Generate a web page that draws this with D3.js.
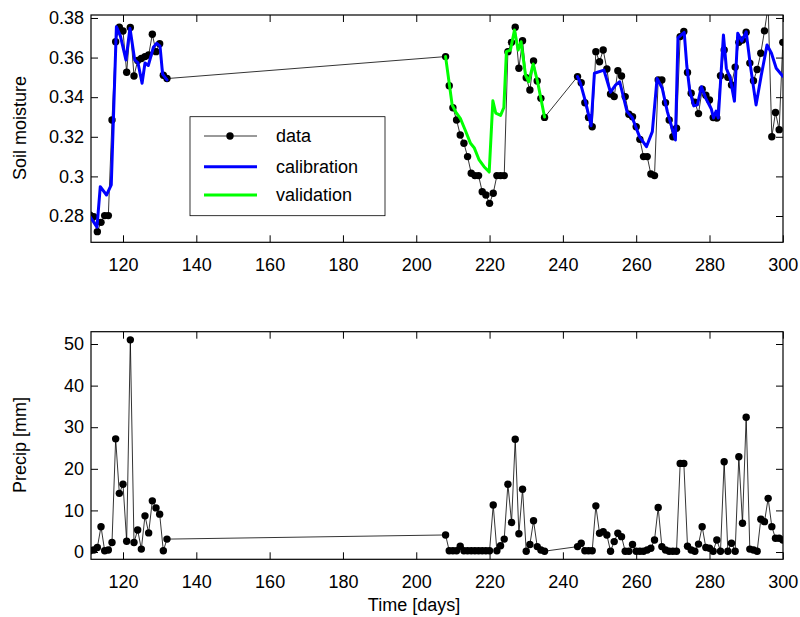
<!DOCTYPE html>
<html>
<head>
<meta charset="utf-8">
<script src="https://cdn.jsdelivr.net/npm/d3@7/dist/d3.min.js"></script>
<style>
  body { margin: 0; background: #fff; }
  svg text { font-family: "Liberation Sans", Arial, Helvetica, sans-serif; fill: #000; }
</style>
</head>
<body>
<svg id="chart" width="800" height="617"></svg>
<script>
// Observation days (day of year)
const obsDays = [
  111, 112, 113, 114, 115, 116, 117, 118, 119, 120, 121, 122, 123, 124, 125, 126, 127, 128, 129, 130, 131, 132,
  208, 209, 210, 211, 212, 213, 214, 215, 216, 217, 218, 219, 220, 221, 222, 223, 224, 225, 226, 227, 228, 229,
  230, 231, 232, 233, 234, 235,
  244, 245, 246, 247, 248, 249, 250, 251, 252, 253, 254, 255, 256, 257, 258, 259, 260, 261, 262, 263, 264, 265,
  266, 267, 268, 269, 270, 271, 272, 273, 274, 275, 276, 277, 278, 279, 280, 281, 282, 283, 284, 285, 286, 287,
  288, 289, 290, 291, 292, 293, 294, 295, 296, 297, 298, 299, 300
];

// Measured soil moisture
const soilMoisture = [
  0.2805, 0.2797, 0.2721, 0.2768, 0.2802, 0.2802, 0.3285, 0.3680, 0.3753, 0.3734, 0.3526, 0.3752, 0.3507, 0.3585,
  0.3595, 0.3605, 0.3613, 0.3718, 0.3630, 0.3670, 0.3511, 0.3494,
  0.3605, 0.3458, 0.3347, 0.3285, 0.3209, 0.3167, 0.3100, 0.3016, 0.3004, 0.3004, 0.2923, 0.2906, 0.2864, 0.2915,
  0.3004, 0.3004, 0.3004, 0.3630, 0.3677, 0.3753, 0.3546, 0.3685, 0.3498, 0.3436, 0.3583, 0.3482, 0.3394, 0.3298,
  0.3504, 0.3473, 0.3372, 0.3298, 0.3251, 0.3630, 0.3579, 0.3638, 0.3542, 0.3416, 0.3403, 0.3534, 0.3507, 0.3403,
  0.3314, 0.3301, 0.3251, 0.3187, 0.3100, 0.3100, 0.3012, 0.3004, 0.3487, 0.3487, 0.3372, 0.3285, 0.3200, 0.3243,
  0.3706, 0.3732, 0.3525, 0.3420, 0.3375, 0.3317, 0.3440, 0.3410, 0.3386, 0.3297, 0.3295, 0.3508, 0.3638, 0.3501,
  0.3462, 0.3552, 0.3677, 0.3689, 0.3728, 0.3572, 0.3483, 0.3540, 0.3622, 0.3735, 0.3860, 0.3200, 0.3323, 0.3236,
  0.3677
];

// Daily precipitation [mm]
const precip = [
  0.3, 0.5, 1.1, 6.1, 0.3, 0.5, 2.3, 27.2, 14.1, 16.3, 2.6, 51.0, 2.3, 5.3, 0.7, 8.7, 4.6, 12.3, 10.6, 9.1, 0.3, 3.1,
  4.1, 0.3, 0.3, 0.3, 1.4, 0.3, 0.3, 0.3, 0.3, 0.3, 0.3, 0.3, 0.3, 11.3, 0.3, 1.5, 3.1, 16.3, 7.1, 27.1, 4.4, 15.1,
  0.2, 1.8, 7.5, 1.3, 0.5, 0.2,
  1.3, 2.1, 0.3, 0.3, 0.3, 11.1, 4.5, 4.9, 4.1, 0.2, 2.5, 4.5, 3.7, 0.2, 0.2, 1.8, 0.2, 0.2, 0.2, 0.5, 0.9, 2.9,
  10.7, 1.3, 0.5, 0.2, 0.2, 0.2, 21.3, 21.3, 1.4, 0.5, 0.2, 1.9, 6.1, 1.1, 0.9, 0.2, 2.9, 0.2, 21.7, 0.2, 2.1, 0.2,
  22.9, 6.9, 32.4, 0.7, 0.5, 0.2, 7.9, 7.3, 12.9, 6.1, 3.3, 3.3, 2.9
];

// Model run over the first calibration period
const calEarlyDays = [111.0, 112.9, 113.8, 115.5, 116.8, 118.2, 119.3, 120.8, 121.9, 123.2, 124.1, 125.2, 126.0,
  126.9, 128.3, 129.2, 130.1, 130.8, 132.0];
const calEarlyValues = [0.2797, 0.2743, 0.2948, 0.2906, 0.2957, 0.3756, 0.3708, 0.3588, 0.3748, 0.3588, 0.3573,
  0.3470, 0.3573, 0.3560, 0.3652, 0.3672, 0.3658, 0.3516, 0.3487];

// Model run over the validation period
const valDays = [208.0, 209.8, 210.8, 212.1, 213.4, 214.8, 215.8, 217.1, 218.5, 219.9, 220.9, 221.7, 223.0, 223.9,
  224.6, 225.7, 226.8, 227.8, 228.6, 229.8, 230.7, 231.9, 233.1, 235.0];
const valValues = [0.3605, 0.3360, 0.3325, 0.3290, 0.3232, 0.3167, 0.3145, 0.3085, 0.3049, 0.3022, 0.3382, 0.3319,
  0.3308, 0.3348, 0.3630, 0.3638, 0.3739, 0.3638, 0.3680, 0.3512, 0.3478, 0.3568, 0.3478, 0.3300];

// Model run over the second calibration period
const calLateDays = [244.0, 244.8, 246.2, 247.7, 248.6, 251.2, 253.0, 254.4, 255.5, 257.5, 258.9, 260.9, 262.8,
  264.4, 265.7, 267.1, 268.5, 270.7, 271.4, 273.1, 273.8, 274.6, 275.7, 276.7, 277.8, 279.1, 280.5, 281.1, 281.8,
  282.4, 283.8, 284.6, 285.6, 286.8, 287.7, 288.8, 290.0, 291.2, 292.7, 294.1, 295.7, 296.9, 298.2, 300.0];
const calLateValues = [0.3504, 0.3470, 0.3375, 0.3256, 0.3521, 0.3537, 0.3425, 0.3462, 0.3478, 0.3327, 0.3297,
  0.3201, 0.3150, 0.3226, 0.3495, 0.3445, 0.3327, 0.3184, 0.3700, 0.3727, 0.3560, 0.3434, 0.3356, 0.3361, 0.3453,
  0.3390, 0.3340, 0.3295, 0.3330, 0.3295, 0.3714, 0.3545, 0.3500, 0.3380, 0.3723, 0.3683, 0.3730, 0.3553, 0.3361,
  0.3508, 0.3664, 0.3622, 0.3546, 0.3506];

// Axis ticks
const dayTicks = [120, 140, 160, 180, 200, 220, 240, 260, 280, 300];
const smTicks = [0.28, 0.30, 0.32, 0.34, 0.36, 0.38];
const smTickLabels = ["0.28", "0.3", "0.32", "0.34", "0.36", "0.38"];
const precipTicks = [0, 10, 20, 30, 40, 50];

const legendNames = ["data", "calibration", "validation"];

// ---------------------------------------------------------------
const svg = d3.select("#chart");
const FONT = 18;
const TICK = 7;
const DOT_R = 3.7;

const left = 91, right = 783;
const x = d3.scaleLinear().domain([111.27, 300.05]).range([left, right]);

const panels = [
  { top: 15, bottom: 242.3, domain: [0.26672, 0.3815], ticks: smTicks, labels: smTickLabels, id: "sm" },
  { top: 331.7, bottom: 559.3, domain: [-1.75, 52.96], ticks: precipTicks, labels: precipTicks.map(String), id: "pr" }
];

panels.forEach(p => {
  p.y = d3.scaleLinear().domain(p.domain).range([p.bottom, p.top]);
  const g = svg.append("g");

  // clip region for the plotted series
  svg.append("clipPath").attr("id", "clip-" + p.id)
    .append("rect").attr("x", left).attr("y", p.top)
    .attr("width", right - left).attr("height", p.bottom - p.top);

  const tickStyle = sel => {
    sel.select(".domain").remove();
    sel.selectAll(".tick line").attr("stroke", "#000").attr("stroke-width", 1);
  };

  // bottom x axis with labels
  g.append("g").attr("transform", `translate(0,${p.bottom})`)
    .call(d3.axisBottom(x).tickValues(dayTicks).tickSizeInner(-TICK).tickSizeOuter(0).tickPadding(16))
    .call(tickStyle)
    .call(s => s.selectAll(".tick text").attr("font-size", FONT).attr("font-family", null));
  // top x axis (ticks only)
  g.append("g").attr("transform", `translate(0,${p.top})`)
    .call(d3.axisTop(x).tickValues(dayTicks).tickSizeInner(-TICK).tickSizeOuter(0).tickFormat(""))
    .call(tickStyle);
  // left y axis with labels
  g.append("g").attr("transform", `translate(${left},0)`)
    .call(d3.axisLeft(p.y).tickValues(p.ticks).tickSizeInner(-TICK).tickSizeOuter(0).tickPadding(7)
      .tickFormat((d, i) => p.labels[i]))
    .call(tickStyle)
    .call(s => s.selectAll(".tick text").attr("font-size", FONT).attr("font-family", null));
  // right y axis (ticks only)
  g.append("g").attr("transform", `translate(${right},0)`)
    .call(d3.axisRight(p.y).tickValues(p.ticks).tickSizeInner(-TICK).tickSizeOuter(0).tickFormat(""))
    .call(tickStyle);

  // frame
  g.append("rect").attr("x", left).attr("y", p.top)
    .attr("width", right - left).attr("height", p.bottom - p.top)
    .attr("fill", "none").attr("stroke", "#000").attr("stroke-width", 1.2);
});

const [smPanel, prPanel] = panels;

// series helpers
function drawData(panel, values) {
  const pts = obsDays.map((d, i) => [d, values[i]]);
  const plot = svg.append("g").attr("clip-path", `url(#clip-${panel.id})`);
  plot.append("path")
    .attr("d", d3.line().x(d => x(d[0])).y(d => panel.y(d[1]))(pts))
    .attr("fill", "none").attr("stroke", "#000").attr("stroke-width", 0.8);
  plot.selectAll("circle").data(pts).join("circle")
    .attr("cx", d => x(d[0])).attr("cy", d => panel.y(d[1])).attr("r", DOT_R).attr("fill", "#000");
}

function drawModel(panel, days, values, color) {
  const pts = days.map((d, i) => [d, values[i]]);
  svg.append("g").attr("clip-path", `url(#clip-${panel.id})`)
    .append("path")
    .attr("d", d3.line().x(d => x(d[0])).y(d => panel.y(d[1]))(pts))
    .attr("fill", "none").attr("stroke", color).attr("stroke-width", 3)
    .attr("stroke-linejoin", "round").attr("stroke-linecap", "round");
}

drawData(smPanel, soilMoisture);
drawModel(smPanel, calEarlyDays, calEarlyValues, "#0000ff");
drawModel(smPanel, valDays, valValues, "#00ff00");
drawModel(smPanel, calLateDays, calLateValues, "#0000ff");
drawData(prPanel, precip);

// axis titles
svg.append("text").attr("transform", "translate(26,128) rotate(-90)")
  .attr("text-anchor", "middle").attr("font-size", FONT).text("Soil moisture");
svg.append("text").attr("transform", "translate(26,445) rotate(-90)")
  .attr("text-anchor", "middle").attr("font-size", FONT).text("Precip [mm]");
svg.append("text").attr("x", 414).attr("y", 611)
  .attr("text-anchor", "middle").attr("font-size", FONT).text("Time [days]");

// legend
const legend = svg.append("g");
legend.append("rect").attr("x", 190).attr("y", 116.7).attr("width", 195).attr("height", 99)
  .attr("fill", "#fff").attr("stroke", "#000").attr("stroke-width", 0.8);
const legendColors = ["#000", "#0000ff", "#00ff00"];
const legendWidths = [0.8, 3, 3];
const legendRowY = [136, 166.7, 195];
legendNames.forEach((name, i) => {
  const yy = legendRowY[i];
  legend.append("line").attr("x1", 204).attr("x2", 257).attr("y1", yy).attr("y2", yy)
    .attr("stroke", legendColors[i]).attr("stroke-width", legendWidths[i]);
  if (i === 0) legend.append("circle").attr("cx", 230).attr("cy", yy).attr("r", DOT_R).attr("fill", "#000");
  legend.append("text").attr("x", 276).attr("y", yy + 6).attr("font-size", FONT).text(name);
});
</script>
</body>
</html>
